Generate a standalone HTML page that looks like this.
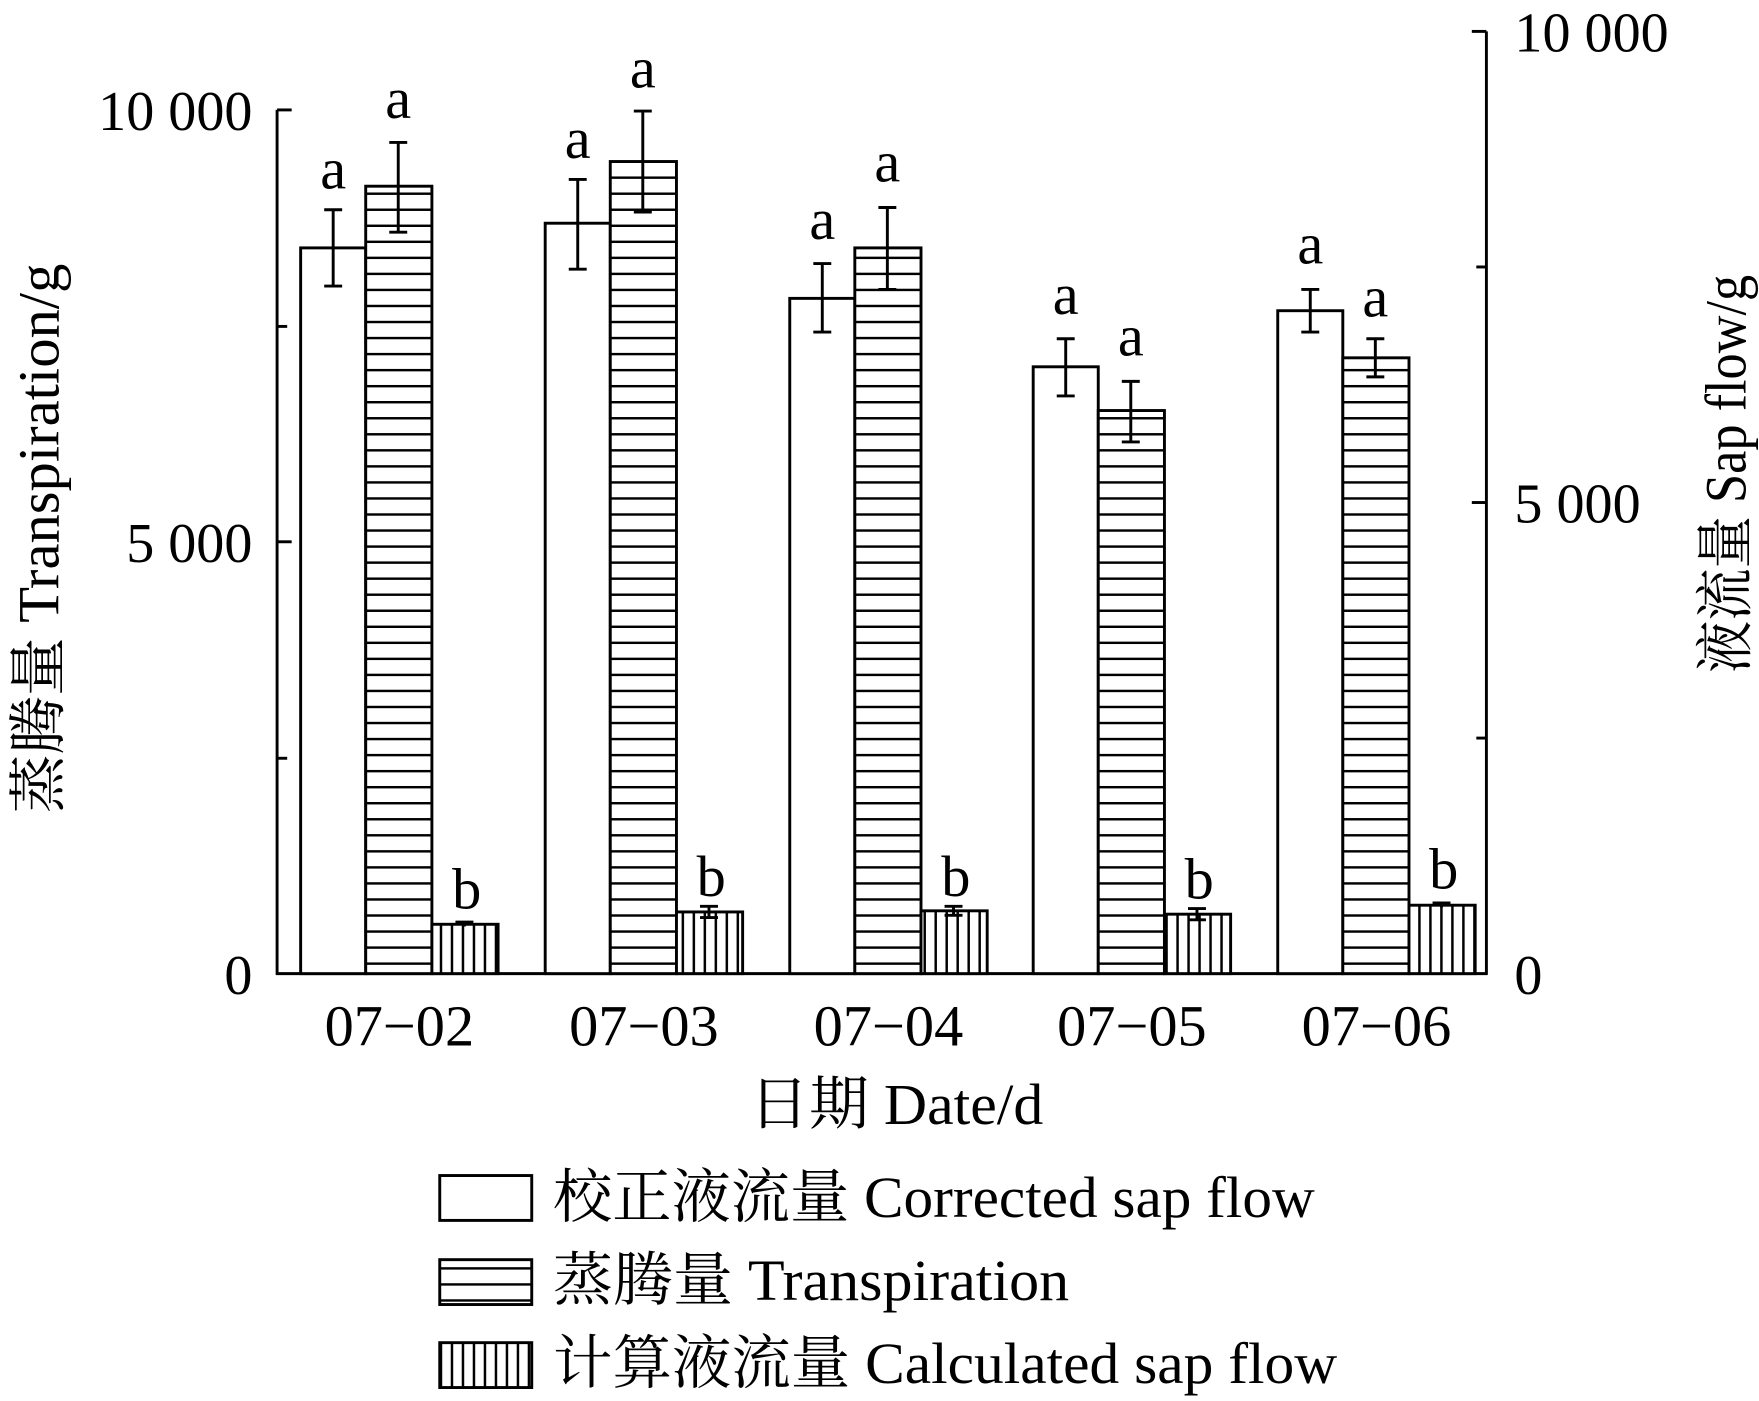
<!DOCTYPE html>
<html><head><meta charset="utf-8"><style>html,body{margin:0;padding:0;background:#fff}svg{display:block}</style></head>
<body>
<svg width="1759" height="1401" viewBox="0 0 1568 1249" preserveAspectRatio="none" xmlns="http://www.w3.org/2000/svg" font-family="'Liberation Serif','Noto Serif CJK SC',serif" fill="#000" xml:space="preserve">
<defs>
<pattern id="hz" width="20" height="14.3" patternUnits="userSpaceOnUse"><rect width="20" height="14.3" fill="#fff"/><line x1="0" y1="1" x2="20" y2="1" stroke="#000" stroke-width="2.4"/></pattern>
<pattern id="vt" width="9.8" height="20" patternUnits="userSpaceOnUse"><rect width="9.8" height="20" fill="#fff"/><line x1="1" y1="0" x2="1" y2="20" stroke="#000" stroke-width="2.4"/></pattern>
</defs>
<g stroke="#000" stroke-width="2.6" fill="none">
<line x1="247" y1="98" x2="247" y2="869"/>
<line x1="1325" y1="28" x2="1325" y2="869"/>
<line x1="246" y1="868" x2="1326" y2="868"/>
<line x1="247" y1="98" x2="260" y2="98"/><line x1="247" y1="291" x2="256" y2="291"/><line x1="247" y1="483" x2="260" y2="483"/><line x1="247" y1="676" x2="256" y2="676"/>
<line x1="1312" y1="28" x2="1325" y2="28"/><line x1="1316" y1="238" x2="1325" y2="238"/><line x1="1312" y1="448" x2="1325" y2="448"/><line x1="1316" y1="658" x2="1325" y2="658"/>
</g>
<g stroke="#000" stroke-width="2.6">
<rect x="268" y="221" width="58" height="647" fill="#fff"/>
<rect x="326" y="166" width="59" height="702" fill="url(#hz)"/>
<rect x="385" y="824" width="59" height="44" fill="url(#vt)"/>
<rect x="486" y="199" width="58" height="669" fill="#fff"/>
<rect x="544" y="144" width="59" height="724" fill="url(#hz)"/>
<rect x="603" y="813" width="59" height="55" fill="url(#vt)"/>
<rect x="704" y="266" width="58" height="602" fill="#fff"/>
<rect x="762" y="221" width="59" height="647" fill="url(#hz)"/>
<rect x="821" y="812" width="59" height="56" fill="url(#vt)"/>
<rect x="921" y="327" width="58" height="541" fill="#fff"/>
<rect x="979" y="366" width="59" height="502" fill="url(#hz)"/>
<rect x="1038" y="815" width="59" height="53" fill="url(#vt)"/>
<rect x="1139" y="277" width="58" height="591" fill="#fff"/>
<rect x="1197" y="319" width="59" height="549" fill="url(#hz)"/>
<rect x="1256" y="807" width="59" height="61" fill="url(#vt)"/>
</g>
<g stroke="#000" stroke-width="2.6" fill="none">
<path d="M297 187V255M289 187H305M289 255H305"/>
<path d="M355 127V207M347 127H363M347 207H363"/>
<path d="M414 822V826M406 822H422"/>
<path d="M515 160V240M507 160H523M507 240H523"/>
<path d="M573 99V189M565 99H581M565 189H581"/>
<path d="M632 808V818M624 808H640M624 818H640"/>
<path d="M733 235V296M725 235H741M725 296H741"/>
<path d="M791 185V258M783 185H799M783 258H799"/>
<path d="M850 808V816M842 808H858M842 816H858"/>
<path d="M950 302V353M942 302H958M942 353H958"/>
<path d="M1008 340V394M1000 340H1016M1000 394H1016"/>
<path d="M1067 810V820M1059 810H1075M1059 820H1075"/>
<path d="M1168 258V296M1160 258H1176M1160 296H1176"/>
<path d="M1226 302V336M1218 302H1234M1218 336H1234"/>
<path d="M1285 805V809M1277 805H1293"/>
</g>
<g font-size="52" text-anchor="middle">
<text x="297" y="168">a</text><text x="355" y="105">a</text><text x="416" y="810">b</text>
<text x="515" y="141">a</text><text x="573" y="78">a</text><text x="634" y="799">b</text>
<text x="733" y="213">a</text><text x="791" y="162">a</text><text x="852" y="799">b</text>
<text x="950" y="280">a</text><text x="1008" y="317">a</text><text x="1069" y="801">b</text>
<text x="1168" y="235">a</text><text x="1226" y="282">a</text><text x="1287" y="792">b</text>
</g>
<g font-size="50" text-anchor="end">
<text x="225" y="116">10 000</text><text x="225" y="501">5 000</text><text x="225" y="886">0</text>
</g>
<g font-size="50">
<text x="1350" y="46">10 000</text><text x="1350" y="466">5 000</text><text x="1350" y="886">0</text>
</g>
<g font-size="52" text-anchor="middle">
<text x="356" y="932">07−02</text><text x="574" y="932">07−03</text><text x="792" y="932">07−04</text><text x="1009" y="932">07−05</text><text x="1227" y="932">07−06</text>
</g>
<g font-size="52">
<text x="668" y="1002" textLength="262" lengthAdjust="spacingAndGlyphs">日期  Date/d</text>
<text transform="translate(52,725) rotate(-90)" textLength="490" lengthAdjust="spacingAndGlyphs">蒸腾量 Transpiration/g</text>
<text transform="translate(1556,600) rotate(-90)" textLength="355" lengthAdjust="spacingAndGlyphs">液流量 Sap flow/g</text>
</g>
<g stroke="#000" stroke-width="2.6">
<rect x="392" y="1048" width="82" height="40" fill="#fff"/>
<rect x="392" y="1123" width="82" height="40" fill="url(#hz)"/>
<rect x="392" y="1197" width="82" height="40" fill="url(#vt)"/>
</g>
<g font-size="52">
<text x="493" y="1085" textLength="679" lengthAdjust="spacingAndGlyphs">校正液流量  Corrected sap flow</text>
<text x="493" y="1159" textLength="460" lengthAdjust="spacingAndGlyphs">蒸腾量  Transpiration</text>
<text x="493" y="1233" textLength="699" lengthAdjust="spacingAndGlyphs">计算液流量  Calculated sap flow</text>
</g>
</svg>
</body></html>
